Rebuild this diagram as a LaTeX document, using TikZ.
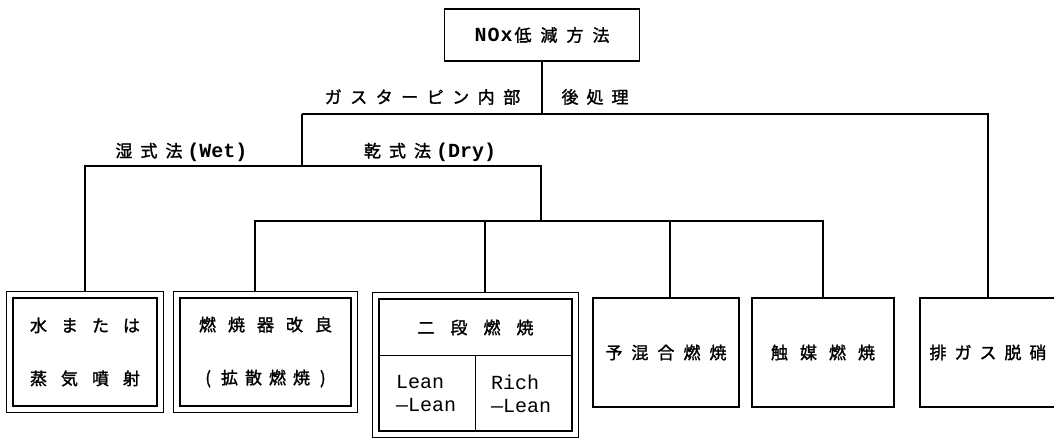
\documentclass[tikz,border=0pt]{standalone}
\usepackage{fontspec}
\newfontfamily\jp{Noto Sans CJK JP}[FakeBold=1.6]
\newfontfamily\mono{Liberation Mono}
\makeatletter
\def\spaced#1#2{\def\sp@gap{\hspace{#1}}\sp@first#2\relax}
\def\sp@first#1{#1\sp@next}
\def\sp@next#1{\ifx\relax#1\else\sp@gap#1\expandafter\sp@next\fi}
\makeatother
\tikzset{
  box/.style={draw, line width=1.1pt, inner sep=0pt, align=center,
    font=\jp\fontsize{17}{53}\selectfont},
  outerbox/.style={draw, line width=1.3pt},
  link/.style={draw, line width=1.5pt},
  lab/.style={inner sep=0pt, font=\jp\fontsize{17}{19}\selectfont},
  cell/.style={inner sep=0pt, align=left, font=\mono\fontsize{20}{23}\selectfont},
}
\begin{document}
\begin{tikzpicture}[x=1pt,y=-1pt]
\useasboundingbox (0,0) rectangle (1054,439);
\clip (0,0) rectangle (1054,439);
% top
\node[box, minimum width=195, minimum height=52, font=\jp\fontsize{17}{19}\selectfont] (top) at (542,35)
  {{\mono\bfseries\fontsize{20}{20}\selectfont N\hspace{1pt}O\hspace{1pt}x}\hspace{2pt}\spaced{9pt}{低減方法}};
% labels
\node[lab] (lgt) at (422.5,97) {\spaced{8.5pt}{ガスターピン内部}};
\node[lab] (lpost) at (595,97) {\spaced{8pt}{後処理}};
\node[lab] (lwet) at (181.5,152) {\spaced{8pt}{湿式法}\hspace{5pt}{\mono\bfseries\fontsize{20}{20}\selectfont(Wet)}};
\node[lab] (ldry) at (430,152) {\spaced{8pt}{乾式法}\hspace{5pt}{\mono\bfseries\fontsize{20}{20}\selectfont(Dry)}};
% bottom boxes
\node[box, minimum width=144, minimum height=108] (wet) at (85,352)
  {\spaced{14pt}{水または}\\\spaced{14pt}{蒸気噴射}};
\node[box, minimum width=171, minimum height=108] (burner) at (265.5,352)
  {\spaced{12pt}{燃焼器改良}\\(\hspace{10pt}\spaced{7pt}{拡散燃焼}\hspace{10pt})};
\node[box, minimum width=193, minimum height=132] (two) at (475.5,365) {};
\node[lab] (twot) at (475.5,327.5) {\spaced{16pt}{二段燃焼}};
\node[cell] (ll) at (426,393.5) {Lean\\—Lean};
\node[cell] (rl) at (521,393.5) {Rich\\—Lean};
\node[box, minimum width=146, minimum height=109] (premix) at (666,352.5) {\spaced{9pt}{予混合燃焼}};
\node[box, minimum width=142, minimum height=109] (cat) at (823,352.5) {\spaced{12pt}{触媒燃焼}};
\node[box, minimum width=136, minimum height=109] (denox) at (988,352.5) {\spaced{8pt}{排ガス脱硝}};
% outer frames of double boxes
\foreach \n in {wet,burner,two}
  \draw[outerbox] ([shift={(-6pt,6pt)}]\n.north west) rectangle ([shift={(6pt,-6pt)}]\n.south east);
% dividers in two-stage box
\draw[line width=1.1pt] ([yshift=-57pt]two.north west) coordinate (dl) -- ([yshift=-57pt]two.north east) coordinate (dr);
\draw[line width=1.1pt] (two.south) -- (two.south |- dl);
% connector coordinates
\coordinate (wetT) at ([yshift=6pt]wet.north);
\coordinate (burT) at ([yshift=6pt]burner.north);
\coordinate (twoT) at ([yshift=6pt]two.north);
\coordinate (L1l) at (302,114);
\coordinate (L1r) at (denox.north |- L1l);
\coordinate (L2r) at (541,166);
\coordinate (L3l) at (255,221);
\coordinate (L3a) at (485,221);
\coordinate (L3b) at (670,221);
\coordinate (L3r) at (cat.north |- L3l);
% connectors
\draw[link] (top.south) -- (top.south |- L1l);
\draw[link] (L1l) -- (L1r) -- (denox.north);
\draw[link] (L1l) -- (L1l |- L2r);
\draw[link] (wetT) |- (L2r) -- (L2r |- L3l);
\draw[link] (L3l |- burT) -- (L3l) -- (L3r) -- (cat.north);
\draw[link] (L3a) -- (L3a |- twoT);
\draw[link] (L3b) -- (L3b |- premix.north);
\end{tikzpicture}
\end{document}
